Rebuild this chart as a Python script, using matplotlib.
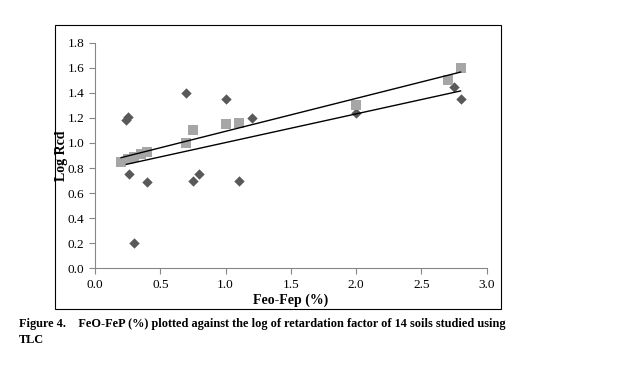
import matplotlib.pyplot as plt
import numpy as np
from matplotlib.patches import Rectangle

# measured Log Rcd (diamonds) and the other series (squares)
feo_d = [0.24, 0.25, 0.26, 0.30, 0.40, 0.70, 0.75, 0.80, 1.00, 1.10, 1.20, 2.00, 2.75, 2.80]
rcd_d = [1.18, 1.21, 0.75, 0.20, 0.69, 1.40, 0.70, 0.75, 1.35, 0.70, 1.20, 1.24, 1.45, 1.35]
feo_s = [0.20, 0.25, 0.30, 0.35, 0.40, 0.70, 0.75, 1.00, 1.10, 2.00, 2.70, 2.80]
rcd_s = [0.85, 0.87, 0.89, 0.91, 0.93, 1.00, 1.10, 1.15, 1.16, 1.30, 1.50, 1.60]

plt.rcParams['font.family'] = ['Liberation Serif', 'DejaVu Serif']

fig = plt.figure(figsize=(6.3, 3.66), dpi=100)
ax = fig.add_axes([0.1508, 0.267, 0.6217, 0.6163])

ax.scatter(feo_d, rcd_d, marker='D', s=28, color='#595959', zorder=3, linewidths=0)
ax.scatter(feo_s, rcd_s, marker='s', s=55, color='#a6a6a6', zorder=3, linewidths=0)

# linear trend lines
for xs, ys in [(feo_s, rcd_s), (feo_d, rcd_d)]:
    m, b = np.polyfit(xs, ys, 1)
    xx = np.array([min(xs), max(xs)])
    ax.plot(xx, m * xx + b, color='black', lw=1.0, zorder=4)

ax.set_xlim(0, 3.0)
ax.set_ylim(0, 1.8)
ax.set_xticks(np.arange(0, 3.01, 0.5))
ax.set_yticks(np.arange(0, 1.81, 0.2))
ax.xaxis.set_major_formatter(plt.FormatStrFormatter('%.1f'))
ax.yaxis.set_major_formatter(plt.FormatStrFormatter('%.1f'))
ax.tick_params(labelsize=9.5, color='#868686', length=4)
for s in ['top', 'right']:
    ax.spines[s].set_visible(False)
for s in ['left', 'bottom']:
    ax.spines[s].set_color('#868686')

ax.set_xlabel('Feo-Fep (%)', fontsize=10, fontweight='bold', labelpad=2)
ax.set_ylabel('Log Rcd', fontsize=10, fontweight='bold')
ax.yaxis.set_label_coords(-0.07, 0.5)

# chart border
fig.patches.append(Rectangle((55 / 630, 1 - 309.3 / 366), 445.7 / 630, 284.3 / 366,
                             transform=fig.transFigure, fill=False, lw=0.8, ec='black'))

fig.text(19 / 630, 1 - 324 / 366,
         'Figure 4.    FeO-FeP (%) plotted against the log of retardation factor of 14 soils studied using',
         fontsize=8.8, fontweight='bold', va='center')
fig.text(19 / 630, 1 - 340 / 366, 'TLC', fontsize=8.8, fontweight='bold', va='center')

fig.savefig('out.png', dpi=100)
